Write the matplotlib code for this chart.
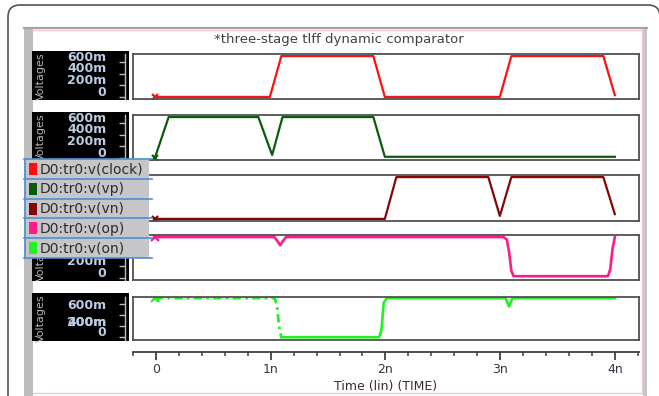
import numpy as np
import matplotlib
matplotlib.use("Agg")
import matplotlib.pyplot as plt
from matplotlib.patches import Rectangle, FancyBboxPatch

# transient waveforms, time in ns, voltage in V
t_clock = [0.0, 1.0, 1.1, 1.9, 2.0, 3.0, 3.1, 3.9, 4.0]
v_clock = [0.0, 0.0, 0.7, 0.7, 0.0, 0.0, 0.7, 0.7, 0.03]

t_vp = [0.0, 0.12, 0.9, 1.02, 1.11, 1.9, 2.0, 4.0]
v_vp = [0.0, 0.7, 0.7, 0.05, 0.7, 0.7, 0.02, 0.02]

t_vn = [0.0, 2.0, 2.1, 2.9, 3.0, 3.1, 3.9, 4.0]
v_vn = [0.0, 0.0, 0.7, 0.7, 0.05, 0.7, 0.7, 0.08]

t_op = [0.0, 1.04, 1.07, 1.09, 1.11, 1.14, 3.03, 3.06, 3.08, 3.10, 3.12, 3.94, 3.96, 3.98, 4.0]
v_op = [0.7, 0.7, 0.62, 0.56, 0.62, 0.7, 0.7, 0.66, 0.45, 0.12, 0.03, 0.03, 0.15, 0.5, 0.7]

# the "on" node: settling part (dash-dot) then the rest of the run
t_on_init = [0.0, 1.04, 1.06, 1.08, 1.1]
v_on_init = [0.7, 0.7, 0.6, 0.2, 0.0]
t_on = [1.1, 1.95, 1.97, 1.99, 2.02, 3.05, 3.08, 3.11, 4.0]
v_on = [0.0, 0.0, 0.12, 0.62, 0.7, 0.7, 0.55, 0.7, 0.7]

signal_names = ["clock", "vp", "vn", "op", "on"]
signal_colors = ["#ff1010", "#0c5a10", "#820808", "#ff1a8c", "#22f022"]

ytick_vals = [0.6, 0.4, 0.2, 0.0]
ytick_text = ["600m", "400m", "200m", "0"]
xtick_vals = [0, 1, 2, 3, 4]
xtick_text = ["0", "1n", "2n", "3n", "4n"]

W, H = 659, 396
fig = plt.figure(figsize=(W / 100, H / 100), dpi=100)
fig.patch.set_facecolor("white")


def fbox(x0, y0, x1, y1):
    # pixel box (top-left origin) -> figure fraction rect
    return [x0 / W, 1 - y1 / H, (x1 - x0) / W, (y1 - y0) / H]


# background: card outline, viewer window frame, black label blocks
bg = fig.add_axes([0, 0, 1, 1], zorder=-1)
bg.set_xlim(0, W)
bg.set_ylim(H, 0)
bg.axis("off")
bg.patch.set_alpha(0)
bg.add_patch(FancyBboxPatch((8, 5), 652, 430, boxstyle="round,pad=0,rounding_size=12",
                            fc="none", ec="#555555", lw=1.2))
bg.add_patch(Rectangle((24, 27), 9, 380, fc="#bdbdbd", ec="none"))
bg.add_patch(Rectangle((643, 27), 4, 380, fc="#c6c6c6", ec="none"))
bg.plot([24, 647], [27.5, 27.5], color="#a4a4a4", lw=1.6)
bg.plot([33, 642], [30, 30], color="#f3c6d6", lw=1)
bg.plot([642, 642], [30, 393], color="#f3c6d6", lw=1)
bg.plot([33, 642], [393, 393], color="#f3c6d6", lw=1)

panel_rows = [(54, 99), (115, 160), (175, 221), (235, 280), (297, 340)]
label_rows = [(51, 100), (112, 161), (172, 222), (232, 281), (293, 341)]
ylims = [(-0.035, 0.735)] * 4 + [(-0.05, 0.72)]
# label anchor values for the last panel, where the middle two sit on top of each other
on_label_vals = [0.57, 0.26, 0.26, 0.08]

for (ly0, ly1) in label_rows:
    bg.add_patch(Rectangle((32, ly0), 97, ly1 - ly0, fc="black", ec="none"))

xlim = (-0.19, 4.21)
panels = []
for i, (y0, y1) in enumerate(panel_rows):
    ax = fig.add_axes(fbox(133, y0, 639, y1))
    ax.set_xlim(*xlim)
    ax.set_ylim(*ylims[i])
    ax.set_xticks([])
    ax.set_yticks([])
    for sp in ax.spines.values():
        sp.set_color("#505050")
        sp.set_linewidth(1.3)
    panels.append(ax)

    # y scale block on black
    lab = fig.add_axes(fbox(32, y0, 125, y1))
    lab.patch.set_alpha(0)
    lab.set_ylim(*ylims[i])
    lab.set_xlim(0, 1)
    for s in ["left", "top", "bottom"]:
        lab.spines[s].set_visible(False)
    lab.spines["right"].set_color("#bfbfbf")
    lab.spines["right"].set_linewidth(1)
    lab.set_xticks([])
    lab.yaxis.tick_right()
    lab.set_yticks(ytick_vals)
    lab.tick_params(axis="y", direction="in", length=4.5, width=1, color="#bfbfbf",
                    labelright=False)
    vals = on_label_vals if i == 4 else ytick_vals
    dy = 0 if i == 4 else 3.5
    for v, txt in zip(vals, ytick_text):
        lab.annotate(txt, xy=(1, v), xycoords=("axes fraction", "data"),
                     xytext=(-13.5, dy), textcoords="offset points",
                     ha="right", va="center", fontsize=9, fontweight="bold",
                     color="#bccbe0")
    fig.text(41 / W, 1 - (y0 + y1) / 2 / H, "Voltages", rotation=90,
             ha="center", va="center", fontsize=8, color="#b4b4b4")

lw = 1.6
panels[0].plot(t_clock, v_clock, color=signal_colors[0], lw=lw)
panels[0].plot(t_clock[0], v_clock[0], "x", color=signal_colors[0], ms=5, mew=1.6)
panels[1].plot(t_vp, v_vp, color=signal_colors[1], lw=lw)
panels[1].plot(t_vp[0], v_vp[0], "x", color=signal_colors[1], ms=5, mew=1.6)
panels[2].plot(t_vn, v_vn, color=signal_colors[2], lw=lw)
panels[2].plot(t_vn[0], v_vn[0], "x", color=signal_colors[2], ms=5, mew=1.6)
panels[3].plot(t_op, v_op, color=signal_colors[3], lw=1.9)
panels[3].plot(t_op[0], v_op[0], "x", color=signal_colors[3], ms=6, mew=1.6)
panels[4].plot(t_on_init, v_on_init, color=signal_colors[4], lw=2,
               linestyle=(0, (3, 1.5, 1, 1.5)))
panels[4].plot(t_on, v_on, color=signal_colors[4], lw=1.9)
panels[4].plot(t_on_init[0], v_on_init[0], "x", color=signal_colors[4], ms=6, mew=1.6)

# shared time axis
tax = fig.add_axes(fbox(133, 351.5, 639, 352))
tax.patch.set_alpha(0)
tax.set_xlim(*xlim)
tax.set_yticks([])
for s in ["left", "right", "top"]:
    tax.spines[s].set_visible(False)
tax.spines["bottom"].set_color("#404040")
tax.spines["bottom"].set_linewidth(1.3)
tax.set_xticks(xtick_vals)
tax.set_xticklabels(xtick_text)
tax.set_xticks(np.arange(-0.2, 4.3, 0.2), minor=True)
tax.tick_params(axis="x", which="major", direction="out", length=5.5, width=1.3,
                color="#404040", labelsize=9, labelcolor="#303848", pad=2.5)
tax.tick_params(axis="x", which="minor", direction="out", length=3, width=1.1,
                color="#404040")
tax.set_xlabel("Time (lin) (TIME)", fontsize=9, color="#303030", labelpad=2.5)

fig.text(339 / W, 1 - 40 / H, "*three-stage tlff dynamic comparator",
         ha="center", va="center", fontsize=9.5, color="#404040")

# signal legend box over the left side
ov = fig.add_axes([0, 0, 1, 1], zorder=5)
ov.set_xlim(0, W)
ov.set_ylim(H, 0)
ov.axis("off")
ov.patch.set_alpha(0)
row_h = 19.8
for i, (name, col) in enumerate(zip(signal_names, signal_colors)):
    y0 = 159 + i * row_h
    ov.add_patch(Rectangle((24, y0), 125, row_h, fc="#c6c6c8", ec="none"))
    ov.add_patch(Rectangle((29, y0 + 4), 7.5, 12, fc=col, ec="none"))
    ov.text(39.5, y0 + row_h / 2 + 0.5, f"D0:tr0:v({name})", ha="left", va="center",
            fontsize=10, color="#2c2c2c")
    ov.plot([24, 152], [y0, y0], color="#4f8fd0", lw=1.2)
ov.plot([24, 152], [159 + 5 * row_h, 159 + 5 * row_h], color="#4f8fd0", lw=1.2)
ov.plot([25, 25], [159, 159 + 5 * row_h], color="#4f8fd0", lw=1.2)

fig.savefig("out.png", dpi=100)
